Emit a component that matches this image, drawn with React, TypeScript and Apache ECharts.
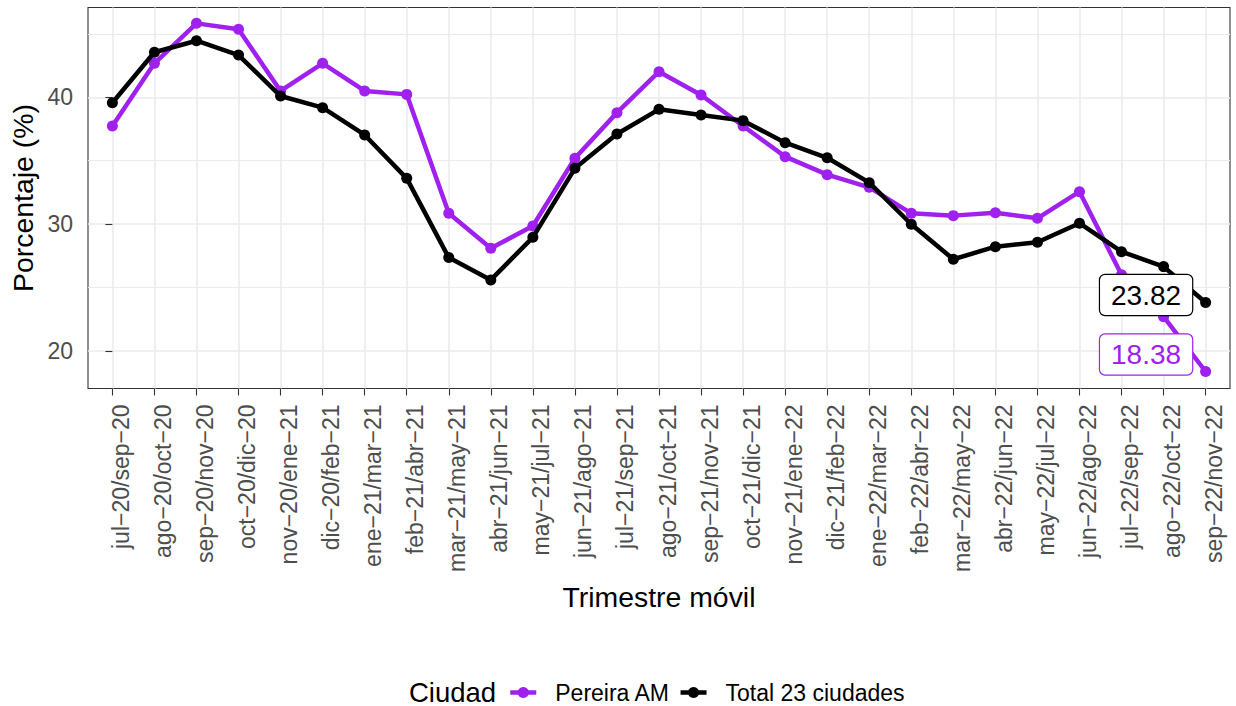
import React, { useEffect, useRef } from "react";
import * as echarts from "echarts";

const categories: string[] = [
  "jul−20/sep−20", "ago−20/oct−20", "sep−20/nov−20", "oct−20/dic−20", "nov−20/ene−21",
  "dic−20/feb−21", "ene−21/mar−21", "feb−21/abr−21", "mar−21/may−21", "abr−21/jun−21",
  "may−21/jul−21", "jun−21/ago−21", "jul−21/sep−21", "ago−21/oct−21", "sep−21/nov−21",
  "oct−21/dic−21", "nov−21/ene−22", "dic−21/feb−22", "ene−22/mar−22", "feb−22/abr−22",
  "mar−22/may−22", "abr−22/jun−22", "may−22/jul−22", "jun−22/ago−22", "jul−22/sep−22",
  "ago−22/oct−22", "sep−22/nov−22",
];

const pereira: number[] = [
  37.74, 42.68, 45.83, 45.36, 40.5, 42.68, 40.5, 40.23, 30.85, 28.1,
  29.85, 35.19, 38.79, 42.02, 40.18, 37.74, 35.32, 33.9, 32.9, 30.85,
  30.67, 30.9, 30.46, 32.56, 26.0, 22.7, 18.38,
];

const total: number[] = [
  39.57, 43.55, 44.46, 43.33, 40.1, 39.18, 37.03, 33.61, 27.36, 25.6,
  28.96, 34.4, 37.11, 39.05, 38.6, 38.16, 36.42, 35.23, 33.27, 29.99,
  27.23, 28.22, 28.57, 30.07, 27.83, 26.65, 23.82,
];

const seriesNames: string[] = ["Pereira AM", "Total 23 ciudades"];
const seriesColors: string[] = ["#A020F0", "#000000"];
const yMajorTicks: number[] = [20, 30, 40];
const yMinorTicks: number[] = [25, 35, 45];
const legendTitle = "Ciudad";

const FONT = "'Liberation Sans', Arial, Helvetica, sans-serif";

function buildData(values: number[], color: string, textColor: string, offsetY: number) {
  return values.map((v, i) => {
    if (i === values.length - 1) {
      return {
        value: [i, v],
        label: {
          show: true,
          position: "left",
          distance: 8,
          offset: [0, offsetY],
          formatter: () => v.toFixed(2),
          fontFamily: FONT,
          fontSize: 28,
          lineHeight: 28,
          color: textColor,
          backgroundColor: "#ffffff",
          borderColor: color,
          borderWidth: 1.2,
          borderRadius: 5,
          padding: [6, 11],
        },
      };
    }
    return { value: [i, v] };
  });
}

export default function App() {
  const ref = useRef<HTMLDivElement>(null);

  useEffect(() => {
    document.body.style.margin = "0";
    if (!ref.current) return;
    const chart = echarts.init(ref.current, null, { renderer: "svg" });
    const idx = categories.map((_, i) => i);

    const option: any = {
      animation: false,
      backgroundColor: "#ffffff",
      textStyle: { fontFamily: FONT },
      grid: {
        left: 88,
        right: 6,
        top: 7.5,
        bottom: 317.5,
        show: true,
        borderColor: "#333333",
        borderWidth: 1.1,
        backgroundColor: "transparent",
      },
      xAxis: {
        type: "value",
        min: -0.58,
        max: 26.58,
        name: "Trimestre móvil",
        nameLocation: "middle",
        nameGap: 194,
        nameTextStyle: { fontFamily: FONT, fontSize: 28.4, color: "#000000", lineHeight: 28 },
        axisLine: { show: false },
        axisTick: { show: true, length: 7, customValues: idx, lineStyle: { color: "#333333", width: 1.1 } },
        axisLabel: {
          show: true,
          customValues: idx,
          rotate: 90,
          margin: 16,
          fontFamily: FONT,
          fontSize: 23,
          color: "#4d4d4d",
          verticalAlign: "top",
          lineHeight: 17,
          formatter: (v: number) => categories[Math.round(v)] ?? "",
        },
        splitLine: { show: true, lineStyle: { color: "#ebebeb", width: 1.6 } },
      },
      yAxis: [
        {
          type: "value",
          min: 17.04,
          max: 47.08,
          name: "Porcentaje (%)",
          nameLocation: "middle",
          nameGap: 45,
          nameTextStyle: { fontFamily: FONT, fontSize: 28.4, color: "#000000", lineHeight: 28 },
          axisLine: { show: false },
          axisTick: { show: true, length: 7, customValues: yMajorTicks, lineStyle: { color: "#333333", width: 1.1 } },
          axisLabel: {
            show: true,
            customValues: yMajorTicks,
            margin: 15,
            fontFamily: FONT,
            fontSize: 23,
            color: "#4d4d4d",
          },
          splitLine: { show: true, lineStyle: { color: "#ebebeb", width: 1.6 } },
        },
        {
          type: "value",
          min: 17.04,
          max: 47.08,
          position: "right",
          axisLine: { show: false },
          axisTick: { show: false, customValues: yMinorTicks },
          axisLabel: { show: false, customValues: yMinorTicks },
          splitLine: { show: true, lineStyle: { color: "#ebebeb", width: 1 } },
        },
      ],
      legend: {
        left: 503,
        top: 676,
        itemWidth: 26,
        itemHeight: 14,
        itemGap: 8,
        lineStyle: { width: 4.5 },
        textStyle: { fontFamily: FONT, fontSize: 23, color: "#000000", padding: [0, 0, 0, 14] },
        data: seriesNames,
      },
      graphic: [
        {
          type: "text",
          x: 409,
          y: 692,
          style: { text: legendTitle, font: `27.5px ${FONT}`, fill: "#000000", verticalAlign: "middle" },
        },
      ],
      series: [
        {
          name: seriesNames[0],
          type: "line",
          yAxisIndex: 0,
          data: buildData(pereira, seriesColors[0], seriesColors[0], -17),
          symbol: "circle",
          symbolSize: 11,
          color: seriesColors[0],
          lineStyle: { width: 4.5, color: seriesColors[0] },
          itemStyle: { color: seriesColors[0] },
          z: 2,
        },
        {
          name: seriesNames[1],
          type: "line",
          yAxisIndex: 0,
          data: buildData(total, seriesColors[1], "#000000", -7.5),
          symbol: "circle",
          symbolSize: 11,
          color: seriesColors[1],
          lineStyle: { width: 4.5, color: seriesColors[1] },
          itemStyle: { color: seriesColors[1] },
          z: 3,
        },
      ],
    };

    chart.setOption(option);
    return () => chart.dispose();
  }, []);

  return <div ref={ref} style={{ width: 1236, height: 706 }} />;
}
